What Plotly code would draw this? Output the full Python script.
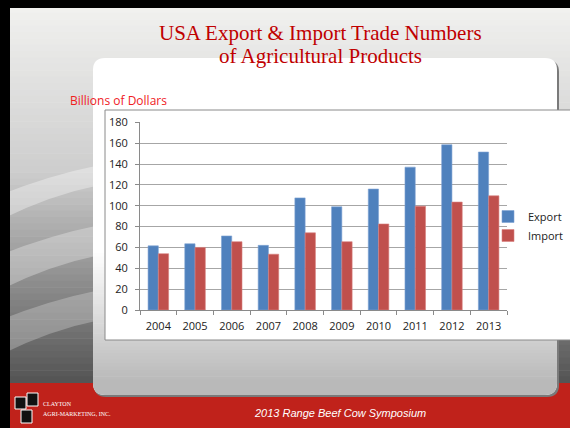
import plotly.graph_objects as go

years = ["2004", "2005", "2006", "2007", "2008", "2009", "2010", "2011", "2012", "2013"]
export_vals = [61.5, 63.5, 71, 62, 107.5, 99, 116, 137, 158.5, 151.5]
import_vals = [54, 60, 65.5, 53.5, 74, 65.5, 82.5, 99.5, 103.5, 109.5]
y_ticks = [0, 20, 40, 60, 80, 100, 120, 140, 160, 180]

W, H = 570, 428


def px(x):
    return x / W


def py(y):
    return (H - y) / H


def lerp_color(c1, c2, t):
    return "rgb(%d,%d,%d)" % tuple(round(a + (b - a) * t) for a, b in zip(c1, c2))


def rrect(x0, y0, x1, y1, r, top=True, bottom=True):
    rt = r if top else 0
    rb = r if bottom else 0
    pts = []
    pts.append("M %f,%f" % (px(x0 + rt), py(y0)))
    pts.append("L %f,%f" % (px(x1 - rt), py(y0)))
    if rt:
        pts.append("Q %f,%f %f,%f" % (px(x1), py(y0), px(x1), py(y0 + rt)))
    pts.append("L %f,%f" % (px(x1), py(y1 - rb)))
    if rb:
        pts.append("Q %f,%f %f,%f" % (px(x1), py(y1), px(x1 - rb), py(y1)))
    pts.append("L %f,%f" % (px(x0 + rb), py(y1)))
    if rb:
        pts.append("Q %f,%f %f,%f" % (px(x0), py(y1), px(x0), py(y1 - rb)))
    pts.append("L %f,%f" % (px(x0), py(y0 + rt)))
    if rt:
        pts.append("Q %f,%f %f,%f" % (px(x0), py(y0), px(x0 + rt), py(y0)))
    pts.append("Z")
    return " ".join(pts)


shapes = []

# slide background gradient
N = 60
top_c, mid_c, bot_c = (242, 242, 240), (205, 205, 205), (85, 85, 85)
for i in range(N):
    y0 = 383 * i / N
    y1 = 383 * (i + 1) / N + 0.5
    t = i / (N - 1)
    if t < 0.45:
        c = lerp_color(top_c, mid_c, t / 0.45)
    else:
        c = lerp_color(mid_c, bot_c, (t - 0.45) / 0.55)
    shapes.append(dict(type="rect", xref="paper", yref="paper", layer="below",
                       x0=0, x1=1, y0=py(y1), y1=py(y0), line=dict(width=0), fillcolor=c))

# swooshes on the left
for (ya, yb, op) in [(175, 195, 0.35), (235, 265, 0.3), (300, 330, 0.25)]:
    path = "M %f,%f Q %f,%f %f,%f L %f,%f Q %f,%f %f,%f Z" % (
        px(0), py(ya + 20), px(50), py(ya), px(100), py(ya - 10),
        px(100), py(yb - 10), px(50), py(yb), px(0), py(yb + 25))
    shapes.append(dict(type="path", xref="paper", yref="paper", layer="below", path=path,
                       fillcolor="rgba(255,255,255,%.2f)" % op, line=dict(width=0)))

# red footer band
shapes.append(dict(type="rect", xref="paper", yref="paper", layer="below",
                   x0=0, x1=1, y0=0, y1=py(383), line=dict(width=0), fillcolor="#C0221B"))

# black frame (top and left)
shapes.append(dict(type="rect", xref="paper", yref="paper", layer="below",
                   x0=0, x1=1, y0=py(8), y1=1, line=dict(width=0), fillcolor="#000000"))
shapes.append(dict(type="rect", xref="paper", yref="paper", layer="below",
                   x0=0, x1=px(10), y0=0, y1=1, line=dict(width=0), fillcolor="#000000"))

# panel shadow + panel
shapes.append(dict(type="path", xref="paper", yref="paper", layer="below",
                   path=rrect(94, 60, 559, 397, 12), fillcolor="#7a7a7a", line=dict(width=0)))
shapes.append(dict(type="path", xref="paper", yref="paper", layer="below",
                   path=rrect(93, 58, 557, 395, 12), fillcolor="#ffffff", line=dict(width=0)))
NP = 40
for i in range(NP):
    y0 = 250 + (383 - 250) * i / NP
    y1 = 250 + (383 - 250) * (i + 1) / NP + 0.5
    t = i / (NP - 1)
    c = lerp_color((255, 255, 255), (185, 185, 185), t)
    shapes.append(dict(type="rect", xref="paper", yref="paper", layer="below",
                       x0=px(93), x1=px(557), y0=py(y1), y1=py(y0), line=dict(width=0), fillcolor=c))
shapes.append(dict(type="path", xref="paper", yref="paper", layer="below",
                   path=rrect(93, 382, 557, 395, 12, top=False), fillcolor="#b9b9b9", line=dict(width=0)))

# chart box
shapes.append(dict(type="rect", xref="paper", yref="paper", layer="below",
                   x0=px(105), x1=px(575), y0=py(340), y1=py(110),
                   line=dict(width=1, color="#8a8a8a"), fillcolor="#ffffff"))

# logo blocks
for (x0, y0, x1, y1) in [(15, 397, 26, 409), (27, 393, 38, 406), (21, 410, 32, 423)]:
    shapes.append(dict(type="rect", xref="paper", yref="paper",
                       x0=px(x0), x1=px(x1), y0=py(y1), y1=py(y0),
                       line=dict(width=1, color="#ffffff"), fillcolor="#111111"))

fig = go.Figure()
fig.add_trace(go.Bar(x=years, y=export_vals, name="Export",
                     marker=dict(color="#4F81BD", line=dict(color="#7FA3D3", width=0.6))))
fig.add_trace(go.Bar(x=years, y=import_vals, name="Import",
                     marker=dict(color="#C0504D", line=dict(color="#D98280", width=0.6))))

annotations = [
    dict(text="USA Export &amp; Import Trade Numbers", x=px(320), y=py(33), xref="paper", yref="paper",
         showarrow=False, font=dict(family="Liberation Serif", size=21, color="#C00000"),
         xanchor="center", yanchor="middle"),
    dict(text="of Agricultural Products", x=px(320), y=py(56), xref="paper", yref="paper",
         showarrow=False, font=dict(family="Liberation Serif", size=21, color="#C00000"),
         xanchor="center", yanchor="middle"),
    dict(text="Billions of Dollars", x=px(68), y=py(100), xref="paper", yref="paper",
         showarrow=False, font=dict(family="Open Sans", size=12, color="#F0201E"),
         xanchor="left", yanchor="middle"),
    dict(text="<i>2013 Range Beef Cow Symposium</i>", x=px(340), y=py(413), xref="paper", yref="paper",
         showarrow=False, font=dict(family="Liberation Sans", size=11, color="#ffffff"),
         xanchor="center", yanchor="middle"),
    dict(text="CLAYTON", x=px(41), y=py(404), xref="paper", yref="paper",
         showarrow=False, font=dict(family="Liberation Serif", size=6, color="#ffffff"),
         xanchor="left", yanchor="middle"),
    dict(text="AGRI-MARKETING, INC.", x=px(41), y=py(414), xref="paper", yref="paper",
         showarrow=False, font=dict(family="Liberation Serif", size=6, color="#ffffff"),
         xanchor="left", yanchor="middle"),
]

fig.update_layout(
    width=W, height=H,
    margin=dict(l=0, r=0, t=0, b=0, autoexpand=False),
    paper_bgcolor="#ffffff",
    plot_bgcolor="rgba(0,0,0,0)",
    barmode="group", bargap=0.44, bargroupgap=0,
    shapes=shapes,
    annotations=annotations,
    showlegend=True,
    legend=dict(x=px(488), y=py(226), xanchor="left", yanchor="middle",
                xref="container", yref="container",
                bgcolor="rgba(0,0,0,0)", font=dict(family="Open Sans", size=11, color="#222"),
                itemwidth=30, tracegroupgap=2),
    font=dict(family="Open Sans", size=11, color="#222"),
    xaxis=dict(domain=[px(140), px(507)], range=[-0.5, 9.5], type="category",
               showline=True, linecolor="#8a8a8a", linewidth=1,
               ticks="outside", tickson="boundaries", ticklen=4, tickcolor="#8a8a8a",
               ticklabelstandoff=6,
               showgrid=False, tickfont=dict(family="Open Sans", size=11, color="#222")),
    yaxis=dict(domain=[py(310), py(122.3)], range=[0, 180], tickvals=y_ticks,
               showline=True, linecolor="#8a8a8a", linewidth=1,
               ticks="outside", ticklen=4, tickcolor="#8a8a8a",
               ticklabelstandoff=5,
               showgrid=True, gridcolor="#a6a6a6", gridwidth=1, zeroline=False,
               tickfont=dict(family="Open Sans", size=11, color="#222")),
)

fig.write_html("out.html", config={"displayModeBar": False},
               post_script="document.body.style.margin='0';document.body.style.overflow='hidden';")
